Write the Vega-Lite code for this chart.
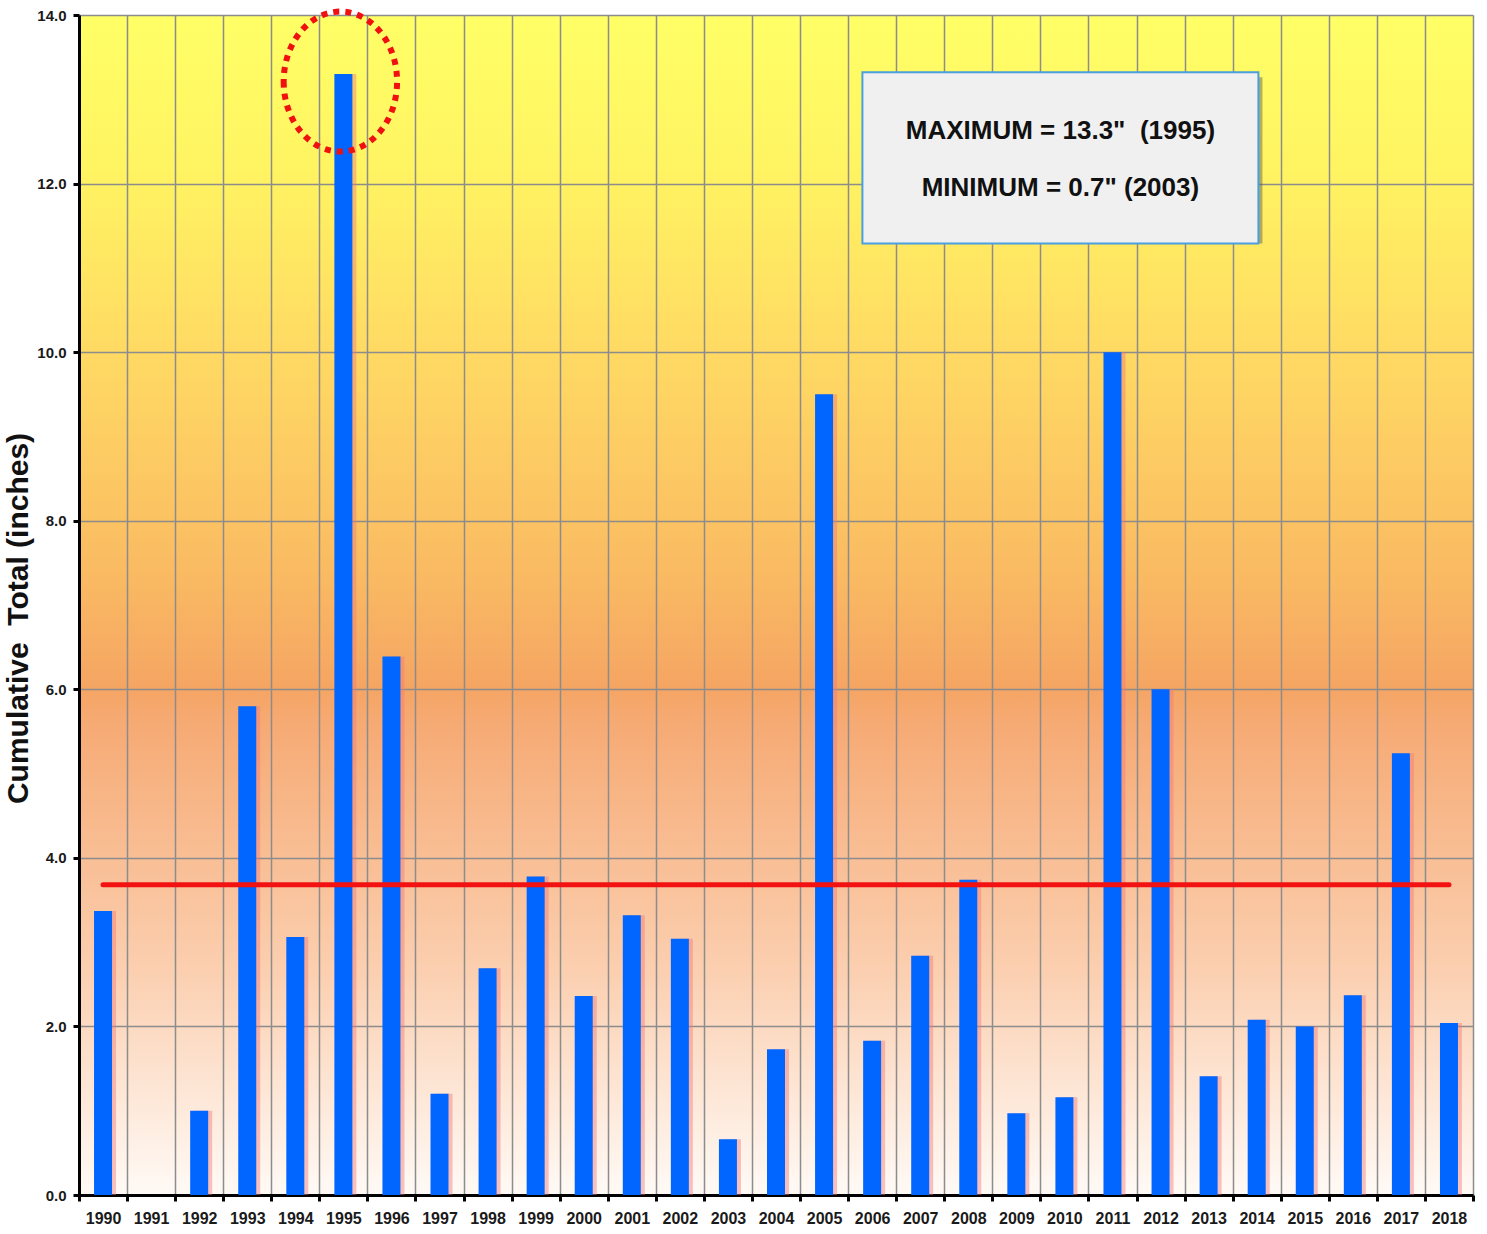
{
  "$schema": "https://vega.github.io/schema/vega-lite/v6.json",
  "width": 1394,
  "height": 1180,
  "autosize": {"type": "none"},
  "padding": {"left": 79, "top": 15, "right": 14, "bottom": 39},
  "background": "white",
  "view": {
    "stroke": null,
    "fill": {
      "gradient": "linear", "x1": 0, "y1": 0, "x2": 0, "y2": 1,
      "stops": [
        {"offset": 0, "color": "#FFFF66"},
        {"offset": 0.13, "color": "#FFF462"},
        {"offset": 0.29, "color": "#FFD963"},
        {"offset": 0.47, "color": "#FABB62"},
        {"offset": 0.57, "color": "#F5A563"},
        {"offset": 0.6, "color": "#F6AA74"},
        {"offset": 0.81, "color": "#FBCFB0"},
        {"offset": 1, "color": "#FFFAF6"}
      ]
    }
  },
  "datasets": {
    "snow": [
      {"year": "1990", "total": 3.37},
      {"year": "1991", "total": null},
      {"year": "1992", "total": 1.0},
      {"year": "1993", "total": 5.8},
      {"year": "1994", "total": 3.06},
      {"year": "1995", "total": 13.3},
      {"year": "1996", "total": 6.39},
      {"year": "1997", "total": 1.2},
      {"year": "1998", "total": 2.69},
      {"year": "1999", "total": 3.78},
      {"year": "2000", "total": 2.36},
      {"year": "2001", "total": 3.32},
      {"year": "2002", "total": 3.04},
      {"year": "2003", "total": 0.66},
      {"year": "2004", "total": 1.73},
      {"year": "2005", "total": 9.5},
      {"year": "2006", "total": 1.83},
      {"year": "2007", "total": 2.84},
      {"year": "2008", "total": 3.74},
      {"year": "2009", "total": 0.97},
      {"year": "2010", "total": 1.16},
      {"year": "2011", "total": 10.0},
      {"year": "2012", "total": 6.0},
      {"year": "2013", "total": 1.41},
      {"year": "2014", "total": 2.08},
      {"year": "2015", "total": 2.0},
      {"year": "2016", "total": 2.37},
      {"year": "2017", "total": 5.24},
      {"year": "2018", "total": 2.04}
    ],
    "mean": [{"from": "1990", "to": "2018", "mean": 3.68}]
  },
  "encoding": {
    "x": {
      "field": "year", "type": "ordinal",
      "scale": {
        "domain": ["1990","1991","1992","1993","1994","1995","1996","1997","1998","1999","2000","2001","2002","2003","2004","2005","2006","2007","2008","2009","2010","2011","2012","2013","2014","2015","2016","2017","2018"],
        "paddingInner": 0, "paddingOuter": 0
      },
      "axis": {
        "title": null, "labelAngle": 0, "tickBand": "extent",
        "grid": true, "gridColor": "#8c8c8c", "gridWidth": 1.5,
        "domainColor": "#000000", "domainWidth": 3,
        "tickColor": "#000000", "tickWidth": 3, "tickSize": 6,
        "labelFont": "Liberation Sans", "labelFontWeight": "bold",
        "labelFontSize": 16, "labelColor": "#1a1a1a", "labelPadding": 9
      }
    }
  },
  "layer": [
    {
      "data": {"name": "snow"},
      "mark": {"type": "bar", "size": 18, "xOffset": 4, "color": "#F27A7A", "opacity": 0.45},
      "encoding": {
        "y": {
          "field": "total", "type": "quantitative",
          "scale": {"domain": [0, 14], "nice": false},
          "axis": {
            "title": "Cumulative\u00a0\u00a0Total (inches)",
            "values": [0, 2, 4, 6, 8, 10, 12, 14], "format": ".1f",
            "grid": true, "gridColor": "#8c8c8c", "gridWidth": 1.5,
            "domainColor": "#000000", "domainWidth": 3,
            "tickColor": "#000000", "tickWidth": 3, "tickSize": 6,
            "labelFont": "Liberation Sans", "labelFontWeight": "bold",
            "labelFontSize": 15, "labelColor": "#1a1a1a", "labelPadding": 7,
            "titleFont": "Liberation Sans", "titleFontWeight": "bold",
            "titleFontSize": 30, "titleColor": "#111111",
            "titleX": -46, "titleY": 603, "titleBaseline": "bottom"
          }
        }
      }
    },
    {
      "data": {"name": "snow"},
      "mark": {"type": "bar", "size": 18, "color": "#0066FF"},
      "encoding": {"y": {"field": "total", "type": "quantitative"}}
    },
    {
      "data": {"name": "mean"},
      "mark": {"type": "rule", "color": "#F21212", "strokeWidth": 5, "strokeCap": "round"},
      "encoding": {
        "x": {"field": "from", "type": "ordinal"},
        "x2": {"field": "to"},
        "y": {"field": "mean", "type": "quantitative"}
      }
    },
    {
      "data": {"values": [{}]},
      "mark": {
        "type": "point",
        "shape": "M -0.81 0 A 0.81 1 0 1 0 0.81 0 A 0.81 1 0 1 0 -0.81 0 Z",
        "size": 19600, "filled": false, "stroke": "#F01010",
        "strokeWidth": 6, "strokeDash": [6, 6], "opacity": 1, "xOffset": -3
      },
      "encoding": {
        "x": {"datum": "1995"},
        "y": {"datum": 13.21, "type": "quantitative"}
      }
    },
    {
      "data": {"values": [{}]},
      "mark": {"type": "bar", "width": 396, "xOffset": 0, "yOffset": 5, "color": "#555555", "opacity": 0.45},
      "encoding": {
        "x": {"datum": "2010"},
        "y": {"datum": 13.32, "type": "quantitative"},
        "y2": {"datum": 11.29}
      }
    },
    {
      "data": {"values": [{}]},
      "mark": {"type": "bar", "width": 396, "xOffset": -4, "fill": "#F0F0F0", "stroke": "#4A9FE0", "strokeWidth": 2},
      "encoding": {
        "x": {"datum": "2010"},
        "y": {"datum": 13.32, "type": "quantitative"},
        "y2": {"datum": 11.29}
      }
    },
    {
      "data": {"values": [{"label": "MAXIMUM = 13.3\"\u00a0\u00a0(1995)", "row": 12.62}, {"label": "MINIMUM = 0.7\" (2003)", "row": 11.95}]},
      "mark": {"type": "text", "font": "Liberation Sans", "fontWeight": "bold", "fontSize": 26, "color": "#111111", "baseline": "middle", "align": "center", "xOffset": -4},
      "encoding": {
        "x": {"datum": "2010"},
        "y": {"field": "row", "type": "quantitative"},
        "text": {"field": "label"}
      }
    }
  ]
}
